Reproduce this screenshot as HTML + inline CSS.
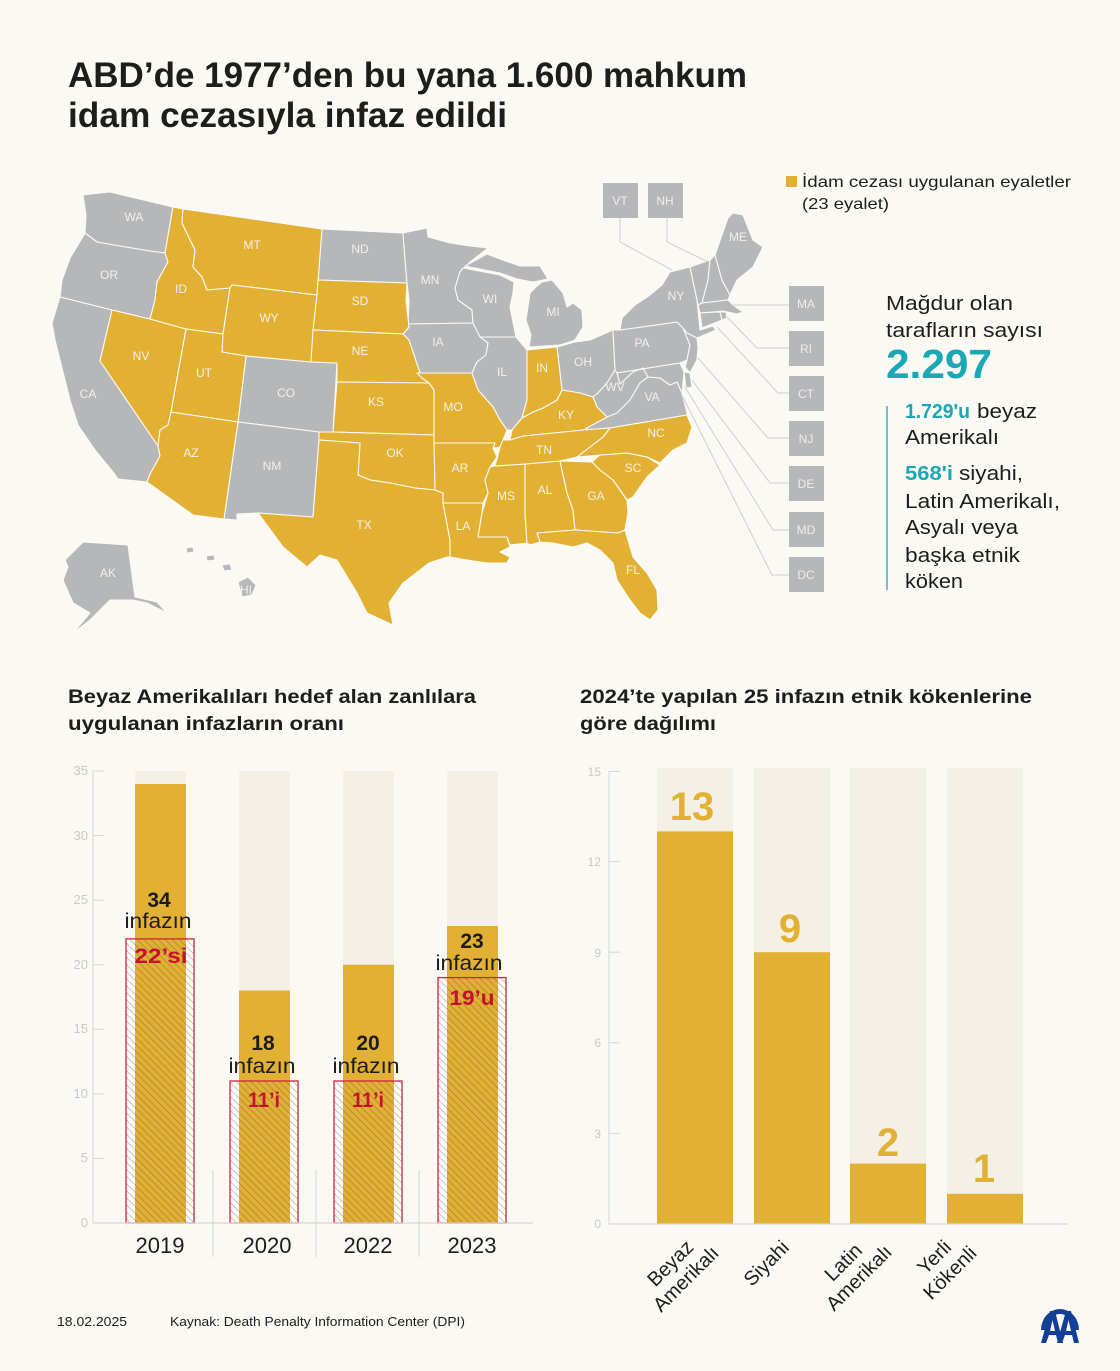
<!DOCTYPE html>
<html><head><meta charset="utf-8"><style>
html,body{margin:0;padding:0;background:#fbf9f4;}
svg{display:block;font-family:"Liberation Sans","DejaVu Sans",sans-serif;}
</style></head><body>
<svg width="1120" height="1371" viewBox="0 0 1120 1371" xmlns="http://www.w3.org/2000/svg">
<defs>
<pattern id="h" patternUnits="userSpaceOnUse" width="5" height="5" patternTransform="rotate(-45)">
<line x1="2.5" y1="0" x2="2.5" y2="5" stroke="#5a5040" stroke-width="0.65" stroke-opacity="0.55"/>
</pattern>
</defs>
<rect x="0" y="0" width="1120" height="1371" fill="#fbf9f4"/>

<!-- Title -->
<text x="68" y="87" font-size="35" font-weight="bold" fill="#1d1d1b" textLength="679" lengthAdjust="spacingAndGlyphs">ABD’de 1977’den bu yana 1.600 mahkum</text>
<text x="68" y="127" font-size="35" font-weight="bold" fill="#1d1d1b" textLength="439" lengthAdjust="spacingAndGlyphs">idam cezasıyla infaz edildi</text>

<!-- Map -->
<g stroke="#fbf9f4" stroke-width="1.1" stroke-linejoin="round">
<g fill="#b6b7b9">
<polygon points="83,195 100,193 110,192 173,207 165,253 150,251 120,246 97,242 85,233 86,215"/>
<polygon points="85,233 97,242 120,246 150,251 165,253 168,262 157,282 155,300 150,319 112,310 60,297 62,280 70,258 78,245"/>
<polygon points="60,297 112,310 100,361 158,446 160,456 150,474 147,482 118,479 113,472 95,450 78,425 70,400 62,368 55,340 52,323"/>
<polygon points="246,356 311,362 337,363 333,432 319,432 238,422"/>
<polygon points="238,422 319,432 319,440 313,517 258,513 237,514 237,520 224,519"/>
<polygon points="322,229 403,233 405,260 407,283 318,280"/>
<polygon points="403,233 427,228 428,237 450,243 470,246 488,248 470,262 460,272 455,288 458,300 472,310 473,323 408,324 409,300 407,283 405,260"/>
<polygon points="408,324 473,323 480,335 488,343 486,355 477,362 472,373 417,373 418,367 409,340 403,334 409,327"/>
<polygon points="460,272 463,268 500,275 514,282 513,293 510,307 516,337 480,337 473,323 472,310 458,300 455,288"/>
<polygon points="465,266 487,254 500,259 520,266 540,266 548,279 533,282 517,279 500,273"/>
<polygon points="530,293 536,287 542,282 552,280 563,293 567,307 573,303 582,310 583,327 575,340 560,345 529,347 531,335 526,320"/>
<polygon points="480,337 516,337 527,350 527,400 522,418 512,430 507,430 500,420 493,407 478,390 472,373 477,362 486,355 488,343"/>
<polygon points="557,347 575,342 590,340 613,330 615,370 607,383 598,393 593,397 580,393 562,390"/>
<polygon points="615,370 617,373 620,384 633,372 643,368 648,377 640,383 630,400 617,413 607,417 597,407 593,397 598,393 607,383"/>
<polygon points="648,377 660,378 670,385 677,382 682,393 687,413 687,415 610,428 583,430 607,417 617,413 630,400 640,383"/>
<polygon points="613,330 620,330 677,322 683,328 690,345 687,360 680,363 617,373 615,370"/>
<polygon points="617,373 680,363 684,372 682,393 677,382 670,385 660,378 648,377 643,368 633,372 620,384"/>
<polygon points="684,372 690,373 692,387 686,388"/>
<polygon points="687,333 697,338 698,347 697,360 690,373 685,367 687,360 690,345 683,328"/>
<polygon points="620,330 622,318 635,305 650,295 662,285 670,272 690,267 697,300 700,330 713,326 716,330 697,338 687,333 683,328 677,322"/>
<polygon points="690,267 710,260 708,280 702,303 698,305 697,300"/>
<polygon points="710,260 715,255 722,280 730,295 728,300 702,303 708,280"/>
<polygon points="715,255 728,218 733,213 743,215 753,240 763,247 753,267 737,280 730,295 722,280"/>
<polygon points="698,305 702,303 728,300 733,305 743,312 737,314 723,311 700,313"/>
<polygon points="700,313 720,312 722,320 702,328"/>
<polygon points="720,312 726,312 727,318 722,320"/>
<polygon points="65,560 83,542 128,545 135,597 157,602 167,613 147,603 133,600 110,600 90,620 73,633 90,613 73,603 63,580 68,567"/>
<polygon points="238,582 248,577 256,585 252,595 242,597"/>
<polygon points="222,565 230,564 232,570 224,571"/>
<polygon points="206,556 214,555 215,560 207,561"/>
<polygon points="186,548 193,547 194,552 187,553"/>
</g>
<g fill="#e2b134">
<polygon points="112,310 150,319 186,329 171,412 168,425 160,430 158,446 100,361"/>
<polygon points="173,207 183,209 182,223 195,250 193,267 202,277 207,290 230,288 223,334 186,329 150,319 155,300 157,282 168,262 165,253"/>
<polygon points="183,209 322,229 317,295 232,285 230,288 207,290 202,277 193,267 195,250 182,223"/>
<polygon points="232,285 317,295 311,362 246,356 222,352 223,334 230,288"/>
<polygon points="186,329 223,334 222,352 246,356 238,422 171,412"/>
<polygon points="171,412 238,422 224,519 193,515 147,482 150,474 160,456 158,446 160,430 168,425"/>
<polygon points="318,280 407,283 406,300 409,327 403,334 313,330 317,295"/>
<polygon points="313,330 403,334 409,340 418,367 422,378 429,383 337,382 337,363 311,362"/>
<polygon points="337,382 429,383 434,390 434,435 333,432"/>
<polygon points="319,432 333,432 434,435 435,490 415,488 390,483 370,480 358,475 360,443 319,440"/>
<polygon points="319,440 360,443 358,475 370,480 390,483 415,488 435,490 443,493 443,503 450,540 450,557 447,557 429,563 403,583 389,603 393,625 367,613 357,593 337,560 320,555 307,567 283,547 258,513 313,517"/>
<polygon points="417,373 472,373 478,390 493,407 500,420 507,430 503,440 500,447 493,448 495,443 434,443 434,435 434,390 429,383 422,378"/>
<polygon points="434,443 495,443 493,448 497,457 490,467 485,480 488,493 483,503 443,503 443,493 435,490"/>
<polygon points="443,503 483,503 482,513 478,537 507,537 510,547 500,552 510,557 507,563 487,563 467,560 450,557 450,540"/>
<polygon points="495,466 525,464 525,513 527,543 510,545 507,537 478,537 482,513 488,493 485,480 490,467"/>
<polygon points="525,464 560,461 567,493 573,510 575,530 537,533 540,542 530,545 527,543 525,513"/>
<polygon points="560,461 592,462 600,470 613,480 627,500 628,513 625,530 618,533 575,530 573,510 567,493"/>
<polygon points="537,533 575,530 618,533 625,530 633,557 647,573 657,590 658,610 650,620 640,613 630,600 617,580 613,563 600,550 587,543 573,547 553,543 540,542"/>
<polygon points="592,462 600,455 627,453 647,457 660,465 647,477 633,497 627,500 613,480 600,470"/>
<polygon points="610,428 687,415 692,427 687,443 673,450 660,463 647,457 627,453 600,455 577,457 590,447 603,437"/>
<polygon points="500,447 503,440 510,440 523,436 583,430 610,428 603,437 590,447 577,457 560,461 525,464 495,466 498,455"/>
<polygon points="510,440 512,430 522,418 533,412 543,408 557,400 562,390 580,393 593,397 597,407 607,417 583,430 523,436"/>
<polygon points="527,350 557,347 562,390 557,400 543,408 533,412 522,418 527,400"/>
</g>
</g>

<!-- Map labels -->
<g font-size="12" fill="#f3f0e8" text-anchor="middle">
<text x="134" y="221">WA</text><text x="109" y="279">OR</text><text x="88" y="398">CA</text>
<text x="181" y="293">ID</text><text x="252" y="249">MT</text><text x="269" y="322">WY</text>
<text x="141" y="360">NV</text><text x="204" y="377">UT</text><text x="191" y="457">AZ</text>
<text x="286" y="397">CO</text><text x="272" y="470">NM</text><text x="360" y="253">ND</text>
<text x="360" y="305">SD</text><text x="360" y="355">NE</text><text x="376" y="406">KS</text>
<text x="395" y="457">OK</text><text x="364" y="529">TX</text><text x="430" y="284">MN</text>
<text x="438" y="346">IA</text><text x="490" y="303">WI</text><text x="553" y="316">MI</text>
<text x="502" y="376">IL</text><text x="542" y="372">IN</text><text x="583" y="366">OH</text>
<text x="453" y="411">MO</text><text x="460" y="472">AR</text><text x="463" y="530">LA</text>
<text x="506" y="500">MS</text><text x="545" y="494">AL</text><text x="596" y="500">GA</text>
<text x="544" y="454">TN</text><text x="566" y="419">KY</text><text x="656" y="437">NC</text>
<text x="633" y="472">SC</text><text x="633" y="574">FL</text><text x="615" y="391">WV</text>
<text x="652" y="401">VA</text><text x="642" y="347">PA</text><text x="676" y="300">NY</text>
<text x="738" y="241">ME</text><text x="108" y="577">AK</text><text x="246" y="594">HI</text>
</g>

<!-- connector lines -->
<g stroke="#cfcfcf" stroke-width="1" fill="none">
<polyline points="620,218 620,242 672,270"/>
<polyline points="667,218 667,242 708,262"/>
<polyline points="733,305 789,305"/>
<polyline points="727,317 757,348 789,348"/>
<polyline points="717,327 778,393 789,393"/>
<polyline points="698,358 768,438 789,438"/>
<polyline points="692,380 770,483 789,483"/>
<polyline points="685,387 773,530 789,530"/>
<polyline points="683,397 772,575 789,575"/>
</g>
<!-- small state boxes -->
<g fill="#b6b7b9">
<rect x="603" y="183" width="35" height="35"/><rect x="648" y="183" width="35" height="35"/>
<rect x="789" y="286" width="35" height="35"/><rect x="789" y="331" width="35" height="35"/>
<rect x="789" y="376" width="35" height="35"/><rect x="789" y="421" width="35" height="35"/>
<rect x="789" y="466" width="35" height="35"/><rect x="789" y="512" width="35" height="35"/>
<rect x="789" y="557" width="35" height="35"/>
</g>
<g font-size="12" fill="#eeeeee" text-anchor="middle">
<text x="620" y="205">VT</text><text x="665" y="205">NH</text>
<text x="806" y="308">MA</text><text x="806" y="353">RI</text><text x="806" y="398">CT</text>
<text x="806" y="443">NJ</text><text x="806" y="488">DE</text><text x="806" y="534">MD</text>
<text x="806" y="579">DC</text>
</g>

<!-- Legend -->
<rect x="786" y="176" width="11" height="11" fill="#e2b134"/>
<text x="802" y="187" font-size="16" fill="#1d1d1b" textLength="269" lengthAdjust="spacingAndGlyphs">İdam cezası uygulanan eyaletler</text>
<text x="802" y="209" font-size="16" fill="#1d1d1b" textLength="87" lengthAdjust="spacingAndGlyphs">(23 eyalet)</text>

<!-- Right panel -->
<g fill="#1d1d1b" font-size="20">
<text x="886" y="310" textLength="127" lengthAdjust="spacingAndGlyphs">Mağdur olan</text>
<text x="886" y="337" textLength="157" lengthAdjust="spacingAndGlyphs">tarafların sayısı</text>
<text x="886" y="378" font-size="41" font-weight="bold" fill="#19a8b4" textLength="106" lengthAdjust="spacingAndGlyphs">2.297</text>
<text x="905" y="418" font-weight="bold" fill="#19a8b4" textLength="65" lengthAdjust="spacingAndGlyphs">1.729'u</text>
<text x="977" y="418" textLength="60" lengthAdjust="spacingAndGlyphs">beyaz</text>
<text x="905" y="444" textLength="94" lengthAdjust="spacingAndGlyphs">Amerikalı</text>
<text x="905" y="480" font-weight="bold" fill="#19a8b4" textLength="48" lengthAdjust="spacingAndGlyphs">568'i</text>
<text x="959" y="480" textLength="64" lengthAdjust="spacingAndGlyphs">siyahi,</text>
<text x="905" y="508" textLength="155" lengthAdjust="spacingAndGlyphs">Latin Amerikalı,</text>
<text x="905" y="534" textLength="113" lengthAdjust="spacingAndGlyphs">Asyalı veya</text>
<text x="905" y="562" textLength="115" lengthAdjust="spacingAndGlyphs">başka etnik</text>
<text x="905" y="588" textLength="58" lengthAdjust="spacingAndGlyphs">köken</text>
</g>
<line x1="887" y1="406" x2="887" y2="590" stroke="#19a8b4" stroke-width="1.3"/>

<!-- Section headings -->
<g font-size="19" font-weight="bold" fill="#1d1d1b">
<text x="68" y="703" textLength="408" lengthAdjust="spacingAndGlyphs">Beyaz Amerikalıları hedef alan zanlılara</text>
<text x="68" y="730" textLength="276" lengthAdjust="spacingAndGlyphs">uygulanan infazların oranı</text>
<text x="580" y="703" textLength="452" lengthAdjust="spacingAndGlyphs">2024’te yapılan 25 infazın etnik kökenlerine</text>
<text x="580" y="730" textLength="136" lengthAdjust="spacingAndGlyphs">göre dağılımı</text>
</g>

<!-- LEFT CHART -->
<g stroke="#d6d6d6" stroke-width="1">
<line x1="93" y1="771" x2="93" y2="1223"/>
<line x1="93" y1="771" x2="104" y2="771"/><line x1="93" y1="835.6" x2="104" y2="835.6"/>
<line x1="93" y1="900.2" x2="104" y2="900.2"/><line x1="93" y1="964.7" x2="104" y2="964.7"/>
<line x1="93" y1="1029.3" x2="104" y2="1029.3"/><line x1="93" y1="1093.9" x2="104" y2="1093.9"/>
<line x1="93" y1="1158.4" x2="104" y2="1158.4"/>
<line x1="213" y1="1170" x2="213" y2="1257"/><line x1="316" y1="1170" x2="316" y2="1257"/><line x1="419" y1="1170" x2="419" y2="1257"/>
</g>
<g font-size="13" fill="#c9c9c9" text-anchor="end">
<text x="88" y="775">35</text><text x="88" y="840">30</text><text x="88" y="904">25</text>
<text x="88" y="969">20</text><text x="88" y="1033">15</text><text x="88" y="1098">10</text>
<text x="88" y="1162">5</text><text x="88" y="1227">0</text>
</g>
<g fill="#f4f0e6">
<rect x="135" y="771" width="51" height="452"/><rect x="239" y="771" width="51" height="452"/>
<rect x="343" y="771" width="51" height="452"/><rect x="447" y="771" width="51" height="452"/>
</g>
<g fill="#e2b134">
<rect x="135" y="784" width="51" height="439"/><rect x="239" y="990.5" width="51" height="232.5"/>
<rect x="343" y="964.7" width="51" height="258.3"/><rect x="447" y="926" width="51" height="297"/>
</g>
<!-- hatched boxes -->
<g>
<rect x="126" y="938.9" width="9" height="284" fill="#ffffff"/><rect x="186" y="938.9" width="8" height="284" fill="#ffffff"/>
<rect x="230" y="1081" width="9" height="142" fill="#ffffff"/><rect x="290" y="1081" width="8" height="142" fill="#ffffff"/>
<rect x="334" y="1081" width="9" height="142" fill="#ffffff"/><rect x="394" y="1081" width="8" height="142" fill="#ffffff"/>
<rect x="438" y="977.6" width="9" height="245.4" fill="#ffffff"/><rect x="498" y="977.6" width="8" height="245.4" fill="#ffffff"/>
<rect x="126" y="938.9" width="68" height="284.1" fill="url(#h)" stroke="#d0243a" stroke-width="1.3"/>
<rect x="230" y="1081" width="68" height="142" fill="url(#h)" stroke="#d0243a" stroke-width="1.3"/>
<rect x="334" y="1081" width="68" height="142" fill="url(#h)" stroke="#d0243a" stroke-width="1.3"/>
<rect x="438" y="977.6" width="68" height="245.4" fill="url(#h)" stroke="#d0243a" stroke-width="1.3"/>
</g>
<line x1="93" y1="1223" x2="533" y2="1223" stroke="#d6d6d6" stroke-width="1.2"/>
<g font-size="21" fill="#1d1d1b" text-anchor="middle">
<text x="159" y="907" font-weight="bold">34</text>
<text x="158" y="928" textLength="67" lengthAdjust="spacingAndGlyphs">infazın</text>
<text x="263" y="1050" font-weight="bold">18</text>
<text x="262" y="1073" textLength="67" lengthAdjust="spacingAndGlyphs">infazın</text>
<text x="368" y="1050" font-weight="bold">20</text>
<text x="366" y="1073" textLength="67" lengthAdjust="spacingAndGlyphs">infazın</text>
<text x="472" y="948" font-weight="bold">23</text>
<text x="469" y="970" textLength="67" lengthAdjust="spacingAndGlyphs">infazın</text>
</g>
<g font-size="21" font-weight="bold" fill="#c8102e" text-anchor="middle">
<text x="161" y="963" textLength="53" lengthAdjust="spacingAndGlyphs">22’si</text>
<text x="264" y="1107" textLength="32" lengthAdjust="spacingAndGlyphs">11’i</text>
<text x="368" y="1107" textLength="32" lengthAdjust="spacingAndGlyphs">11’i</text>
<text x="472" y="1005" textLength="45" lengthAdjust="spacingAndGlyphs">19’u</text>
</g>
<g font-size="22" fill="#1d1d1b" text-anchor="middle">
<text x="160" y="1253">2019</text><text x="267" y="1253">2020</text>
<text x="368" y="1253">2022</text><text x="472" y="1253">2023</text>
</g>

<!-- RIGHT CHART -->
<g fill="#f4f0e6">
<rect x="657" y="768" width="76" height="456"/><rect x="754" y="768" width="76" height="456"/>
<rect x="850" y="768" width="76" height="456"/><rect x="947" y="768" width="76" height="456"/>
</g>
<g fill="#e2b134">
<rect x="657" y="831.4" width="76" height="392.6"/><rect x="754" y="952.2" width="76" height="271.8"/>
<rect x="850" y="1163.6" width="76" height="60.4"/><rect x="947" y="1193.8" width="76" height="30.2"/>
</g>
<g stroke="#d6d6d6" stroke-width="1">
<line x1="609" y1="771" x2="609" y2="1224"/>
<line x1="609" y1="771.4" x2="620" y2="771.4"/><line x1="609" y1="861.6" x2="620" y2="861.6"/>
<line x1="609" y1="952.2" x2="620" y2="952.2"/><line x1="609" y1="1042.8" x2="620" y2="1042.8"/>
<line x1="609" y1="1133.4" x2="620" y2="1133.4"/>
<line x1="609" y1="1224" x2="1068" y2="1224" stroke-width="1.2"/>
</g>
<g font-size="12" fill="#c9c9c9" text-anchor="end">
<text x="601" y="776">15</text><text x="601" y="866">12</text><text x="601" y="957">9</text>
<text x="601" y="1047">6</text><text x="601" y="1138">3</text><text x="601" y="1228">0</text>
</g>
<g font-size="40" font-weight="bold" fill="#e2b134" text-anchor="middle">
<text x="692" y="820">13</text><text x="790" y="942">9</text>
<text x="888" y="1156">2</text><text x="984" y="1182">1</text>
</g>
<g font-size="20" fill="#1d1d1b" text-anchor="middle">
<g transform="translate(675,1268) rotate(-45)"><text x="0" y="0">Beyaz</text><text x="0" y="22">Amerikalı</text></g>
<g transform="translate(771,1268) rotate(-45)"><text x="0" y="0">Siyahi</text></g>
<g transform="translate(848,1267) rotate(-45)"><text x="0" y="0">Latin</text><text x="0" y="22">Amerikalı</text></g>
<g transform="translate(939,1262) rotate(-45)"><text x="0" y="0">Yerli</text><text x="0" y="22">Kökenli</text></g>
</g>

<!-- Footer -->
<text x="57" y="1326" font-size="12.5" fill="#1d1d1b" textLength="70" lengthAdjust="spacingAndGlyphs">18.02.2025</text>
<text x="170" y="1326" font-size="12.5" fill="#1d1d1b" textLength="295" lengthAdjust="spacingAndGlyphs">Kaynak: Death Penalty Information Center (DPI)</text>

<!-- AA logo -->
<g fill="#123f96">
<path d="M1041,1330 A19,21 0 0 1 1079,1330 L1074,1330 A14,16 0 0 0 1046,1330 Z"/>
<polygon points="1041,1343 1050,1311 1055,1311 1063,1343 1058,1343 1056,1335 1049,1335 1046,1343"/>
<polygon points="1057,1343 1066,1311 1071,1311 1079,1343 1074,1343 1072,1335 1065,1335 1062,1343"/>
</g>
<g fill="#fbf9f4">
<polygon points="1050,1331 1052.5,1320 1055,1331"/>
<polygon points="1066,1331 1068.5,1320 1071,1331"/>
</g>
</svg>
</body></html>
